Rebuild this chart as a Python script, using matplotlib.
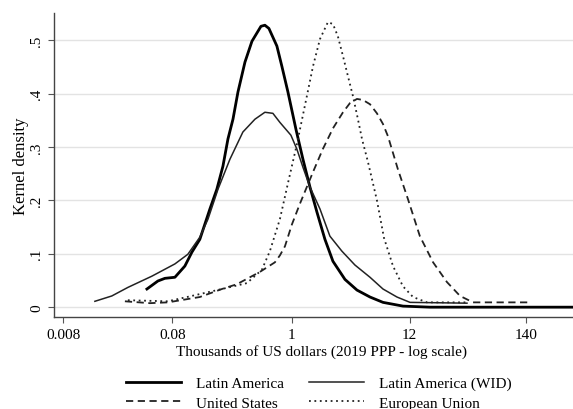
import matplotlib
matplotlib.use("Agg")
import matplotlib.pyplot as plt

plt.rcParams["font.family"] = "serif"
plt.rcParams["font.serif"] = ["Liberation Serif", "DejaVu Serif"]

# values (x: thousands of US dollars, y: density)
la_x = [0.0468, 0.0590, 0.0684, 0.0845, 0.1043, 0.121, 0.143, 0.177, 0.205, 0.233,
        0.259, 0.288, 0.320, 0.371, 0.430, 0.520, 0.565, 0.615, 0.728, 0.809, 0.919,
        1.089, 1.262, 1.463, 1.696, 2.008, 2.377, 3.064, 3.95, 5.20, 6.84, 10.43,
        18.45, 378]
la_y = [0.034, 0.049, 0.054, 0.056, 0.077, 0.103, 0.127, 0.184, 0.221, 0.264,
        0.315, 0.352, 0.403, 0.459, 0.498, 0.526, 0.528, 0.522, 0.489, 0.451, 0.403,
        0.333, 0.277, 0.225, 0.178, 0.127, 0.086, 0.052, 0.032, 0.019, 0.009, 0.002,
        0.0, 0.0]

wid_x = [0.0156, 0.0223, 0.0313, 0.0519, 0.0845, 0.111, 0.143, 0.170, 0.210, 0.270,
         0.355, 0.458, 0.565, 0.669, 0.776, 0.979, 1.11, 1.262, 1.463, 1.807, 2.23,
         2.87, 3.78, 5.20, 6.84, 9.19, 12.1, 40.3]
wid_y = [0.011, 0.021, 0.037, 0.058, 0.081, 0.099, 0.131, 0.165, 0.221, 0.277,
         0.328, 0.352, 0.365, 0.363, 0.346, 0.322, 0.296, 0.262, 0.225, 0.184, 0.133,
         0.105, 0.079, 0.056, 0.034, 0.019, 0.009, 0.0075]

us_x = [0.0294, 0.0498, 0.0728, 0.143, 0.228, 0.313, 0.508, 0.698, 0.776, 0.863, 1.0,
        1.18, 1.56, 1.92, 2.38, 2.94, 3.40, 3.95, 4.48, 5.20, 6.02, 6.84, 7.60, 9.38,
        11.6, 14.9, 19.7, 26.4, 34.8, 45.8, 152]
us_y = [0.011, 0.0075, 0.009, 0.019, 0.034, 0.043, 0.066, 0.084, 0.097, 0.114, 0.155,
        0.193, 0.253, 0.296, 0.335, 0.365, 0.382, 0.390, 0.388, 0.380, 0.363, 0.343,
        0.320, 0.258, 0.202, 0.133, 0.084, 0.047, 0.021, 0.009, 0.009]

eu_x = [0.0313, 0.0728, 0.109, 0.228, 0.386, 0.530, 0.628, 0.776, 0.919, 1.11, 1.37,
        1.56, 1.807, 2.14, 2.38, 2.64, 2.94, 3.26, 3.63, 4.03, 4.39, 4.98, 6.02, 6.98,
        8.45, 10.43, 12.9, 17.3, 40.3]
eu_y = [0.013, 0.011, 0.019, 0.034, 0.045, 0.070, 0.105, 0.165, 0.232, 0.305, 0.395,
        0.451, 0.502, 0.534, 0.530, 0.507, 0.470, 0.433, 0.395, 0.352, 0.315, 0.272,
        0.200, 0.130, 0.077, 0.039, 0.019, 0.009, 0.009]

xticks = [0.008, 0.08, 1, 12, 140]
xtick_labels = ["0.008", "0.08", "1", "12", "140"]
yticks = [0, 0.1, 0.2, 0.3, 0.4, 0.5]
ytick_labels = ["0", ".1", ".2", ".3", ".4", ".5"]

fig = plt.figure(figsize=(5.73, 4.10), dpi=100)
ax = fig.add_axes([0.094, 0.224, 0.906, 0.742])

l1, = ax.plot(la_x, la_y, color="black", lw=2.0, label="Latin America")
l2, = ax.plot(wid_x, wid_y, color="#222222", lw=1.1, label="Latin America (WID)")
l3, = ax.plot(us_x, us_y, color="#222222", lw=1.3, ls=(0, (4, 2.5)), label="United States")
l4, = ax.plot(eu_x, eu_y, color="#222222", lw=1.3, ls=(0, (1, 2)), label="European Union")

ax.set_xscale("log")
ax.set_xlim(0.00656, 378)
ax.set_ylim(-0.0187, 0.551)
ax.set_xticks(xticks)
ax.set_xticklabels(xtick_labels)
ax.minorticks_off()
ax.set_yticks(yticks)
ax.set_yticklabels(ytick_labels, rotation=90, va="center")
ax.tick_params(axis="both", direction="out", length=4, color="#555555", labelsize=11)

ax.grid(axis="y", color="#e3e3e3", lw=1.0)
ax.set_axisbelow(True)
for s in ["top", "right"]:
    ax.spines[s].set_visible(False)
for s in ["left", "bottom"]:
    ax.spines[s].set_color("#444444")
    ax.spines[s].set_linewidth(1.0)

ax.set_xlabel("Thousands of US dollars (2019 PPP - log scale)", fontsize=11)
ax.xaxis.set_label_coords(0.516, -0.088)
ax.set_ylabel("Kernel density", fontsize=12, labelpad=1)

# column-wise fill, so order handles to read row by row
fig.legend([l1, l3, l2, l4], [l1.get_label(), l3.get_label(), l2.get_label(), l4.get_label()],
           loc="center", bbox_to_anchor=(319 / 573, 1 - 394 / 410), ncol=2,
           frameon=False, fontsize=11, handlelength=3.6, handletextpad=1.0,
           columnspacing=1.6, labelspacing=0.4, borderaxespad=0)

fig.savefig("out.png", dpi=100)
